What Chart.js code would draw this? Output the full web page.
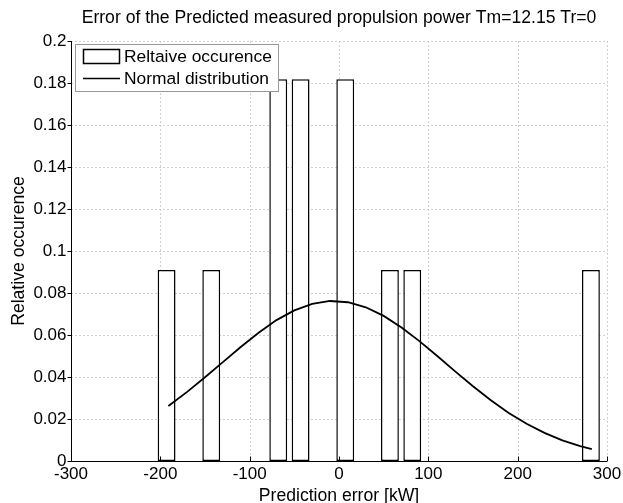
<!DOCTYPE html>
<html>
<head>
<meta charset="utf-8">
<script src="https://cdn.jsdelivr.net/npm/chart.js@4.4.1/dist/chart.umd.min.js"></script>
<style>
  html, body { margin: 0; padding: 0; background: #ffffff; }
  #wrap { width: 623px; height: 503px; position: relative; }
</style>
</head>
<body>
<div id="wrap"><canvas id="c" width="623" height="503"></canvas></div>
<script>
// ---- data ----
const titleText = "Error of the Predicted measured propulsion power Tm=12.15 Tr=0";
const xAxisTitle = "Prediction error [kW]";
const yAxisTitle = "Relative occurence";
const barLabel = "Reltaive occurence";
const lineLabel = "Normal distribution";

// histogram bin centres (kW) and relative occurrence
const binCenters = [-193, -143, -68, -43, 7, 57, 82, 282];
const binValues  = [0.0909, 0.0909, 0.1818, 0.1818, 0.1818, 0.0909, 0.0909, 0.0909];

// normal distribution curve
const curveX = [-191, -170, -150, -130, -110, -90, -70, -50, -30, -10, 10, 30, 50, 70, 90, 110, 130, 150, 170, 190, 210, 230, 250, 270, 283];
const curveY = [0.0262, 0.0329, 0.0399, 0.0471, 0.0543, 0.0611, 0.0671, 0.0717, 0.0748, 0.0762, 0.0756, 0.0732, 0.0691, 0.0636, 0.0571, 0.0500, 0.0427, 0.0356, 0.0289, 0.0229, 0.0177, 0.0134, 0.0098, 0.0071, 0.0056];

const xTicks = [-300, -200, -100, 0, 100, 200, 300];
const yTicks = [0, 0.02, 0.04, 0.06, 0.08, 0.1, 0.12, 0.14, 0.16, 0.18, 0.2];

const FONT = "'Liberation Sans', Arial, sans-serif";

const barData = binCenters.map((x, i) => ({ x: x, y: binValues[i] }));
const lineData = curveX.map((x, i) => ({ x: x, y: curveY[i] }));

const AREA = { left: 71, right: 607, top: 41, bottom: 461 };

const decor = {
  id: 'decor',
  beforeDatasetsDraw(chart) {
    const ctx = chart.ctx;
    const xs = chart.scales.x, ys = chart.scales.y;
    ctx.save();
    // dotted grid
    ctx.strokeStyle = '#d0d0d0';
    ctx.lineWidth = 1;
    ctx.setLineDash([2, 2]);
    xTicks.forEach(v => {
      const px = Math.round(xs.getPixelForValue(v)) + 0.5;
      ctx.beginPath(); ctx.moveTo(px, ys.top); ctx.lineTo(px, ys.bottom); ctx.stroke();
    });
    yTicks.forEach(v => {
      const py = Math.round(ys.getPixelForValue(v)) + 0.5;
      ctx.beginPath(); ctx.moveTo(xs.left, py); ctx.lineTo(xs.right, py); ctx.stroke();
    });
    ctx.restore();
  },
  afterDraw(chart) {
    const ctx = chart.ctx;
    const xs = chart.scales.x, ys = chart.scales.y;
    ctx.save();
    // axes lines
    ctx.setLineDash([]);
    ctx.strokeStyle = '#000';
    ctx.lineWidth = 1;
    const bx = Math.round(xs.left) + 0.5, by = Math.round(ys.bottom) + 0.5;
    ctx.beginPath(); ctx.moveTo(bx, ys.top); ctx.lineTo(bx, by); ctx.lineTo(xs.right, by); ctx.stroke();
    // ticks
    xTicks.forEach(v => {
      const px = Math.round(xs.getPixelForValue(v)) + 0.5;
      ctx.beginPath(); ctx.moveTo(px, by); ctx.lineTo(px, by - 5); ctx.stroke();
    });
    yTicks.forEach(v => {
      const py = Math.round(ys.getPixelForValue(v)) + 0.5;
      ctx.beginPath(); ctx.moveTo(bx, py); ctx.lineTo(bx - 4, py); ctx.stroke();
    });
    // tick labels
    ctx.fillStyle = '#000';
    ctx.font = '17px ' + FONT;
    ctx.textAlign = 'center'; ctx.textBaseline = 'top';
    xTicks.forEach(v => {
      ctx.fillText(String(v), xs.getPixelForValue(v), by + 4);
    });
    ctx.textAlign = 'right'; ctx.textBaseline = 'middle';
    yTicks.forEach(v => {
      ctx.fillText(String(v), bx - 5, ys.getPixelForValue(v));
    });
    // title
    ctx.font = '17.6px ' + FONT;
    ctx.textAlign = 'center'; ctx.textBaseline = 'alphabetic';
    ctx.fillText(titleText, (xs.left + xs.right) / 2, 23);
    // x title
    ctx.font = '17.6px ' + FONT;
    ctx.fillText(xAxisTitle, (xs.left + xs.right) / 2, 501);
    // y title
    ctx.save();
    ctx.translate(24, (ys.top + ys.bottom) / 2);
    ctx.rotate(-Math.PI / 2);
    ctx.fillText(yAxisTitle, 0, 0);
    ctx.restore();

    // legend
    const lx = 75, ly = 44, lw = 203, lh = 47;
    ctx.fillStyle = '#fff';
    ctx.fillRect(lx, ly, lw, lh);
    ctx.strokeStyle = '#999';
    ctx.lineWidth = 1;
    ctx.strokeRect(lx + 0.5, ly + 0.5, lw, lh);
    ctx.strokeStyle = '#000';
    ctx.lineWidth = 1.5;
    ctx.strokeRect(83.5, 49.5, 36, 14);
    ctx.beginPath(); ctx.moveTo(83, 78.5); ctx.lineTo(120, 78.5); ctx.stroke();
    ctx.fillStyle = '#000';
    ctx.font = '17.4px ' + FONT;
    ctx.textAlign = 'left'; ctx.textBaseline = 'middle';
    ctx.fillText(barLabel, 124, 57);
    ctx.fillText(lineLabel, 124, 79);
    ctx.restore();
  }
};

new Chart(document.getElementById('c'), {
  type: 'bar',
  data: {
    datasets: [
      {
        type: 'bar',
        label: barLabel,
        data: barData,
        backgroundColor: '#ffffff',
        borderColor: '#000000',
        borderWidth: 1.5,
        borderSkipped: false,
        barPercentage: 0.8,
        categoryPercentage: 1.0,
        order: 2
      },
      {
        type: 'line',
        label: lineLabel,
        data: lineData,
        borderColor: '#000000',
        borderWidth: 1.8,
        pointRadius: 0,
        tension: 0,
        fill: false,
        order: 1
      }
    ]
  },
  options: {
    responsive: false,
    animation: false,
    devicePixelRatio: 1,
    layout: { padding: { left: 0, right: 623 - AREA.right, top: AREA.top, bottom: 503 - AREA.bottom } },
    plugins: { legend: { display: false }, title: { display: false }, tooltip: { enabled: false } },
    scales: {
      x: {
        type: 'linear', min: -300, max: 300, offset: false,
        grid: { display: false, drawTicks: false, offset: false },
        border: { display: false },
        ticks: { display: false },
        afterFit(s) { s.height = 0; }
      },
      y: {
        type: 'linear', min: 0, max: 0.2,
        grid: { display: false, drawTicks: false },
        border: { display: false },
        ticks: { display: false },
        afterFit(s) { s.width = AREA.left; }
      }
    }
  },
  plugins: [decor]
});
</script>
</body>
</html>
